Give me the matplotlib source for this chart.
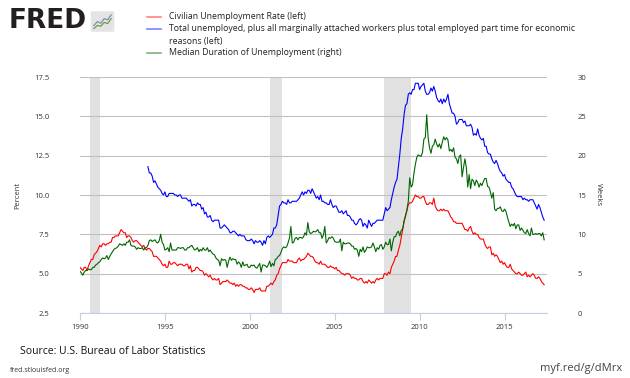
"""FRED chart: unemployment rate, U-6 and median duration of unemployment"""
import matplotlib
matplotlib.use("Agg")
import matplotlib.pyplot as plt
from matplotlib.patches import FancyBboxPatch

plt.rcParams['font.family'] = ['Open Sans', 'DejaVu Sans']

# monthly values, Jan 1990 .. May 2017
unrate = [
    5.4, 5.3, 5.2, 5.4, 5.4, 5.2, 5.5, 5.7, 5.9, 5.9, 6.2, 6.3,
    6.4, 6.6, 6.8, 6.7, 6.9, 6.9, 6.8, 6.9, 6.9, 7.0, 7.0, 7.3,
    7.3, 7.4, 7.4, 7.4, 7.6, 7.8, 7.7, 7.6, 7.6, 7.3, 7.4, 7.4,
    7.3, 7.1, 7.0, 7.1, 7.1, 7.0, 6.9, 6.8, 6.7, 6.8, 6.6, 6.5,
    6.6, 6.6, 6.5, 6.4, 6.1, 6.1, 6.1, 6.0, 5.9, 5.8, 5.6, 5.5,
    5.6, 5.4, 5.4, 5.8, 5.6, 5.6, 5.7, 5.7, 5.6, 5.5, 5.6, 5.6,
    5.6, 5.5, 5.5, 5.6, 5.6, 5.3, 5.5, 5.1, 5.2, 5.2, 5.4, 5.4,
    5.3, 5.2, 5.2, 5.1, 4.9, 5.0, 4.9, 4.8, 4.9, 4.7, 4.6, 4.7,
    4.6, 4.6, 4.7, 4.3, 4.4, 4.5, 4.5, 4.5, 4.6, 4.5, 4.4, 4.4,
    4.3, 4.4, 4.2, 4.3, 4.2, 4.3, 4.3, 4.2, 4.2, 4.1, 4.1, 4.0,
    4.0, 4.1, 4.0, 3.8, 4.0, 4.0, 4.0, 4.1, 3.9, 3.9, 3.9, 3.9,
    4.2, 4.2, 4.3, 4.4, 4.3, 4.5, 4.6, 4.9, 5.0, 5.3, 5.5, 5.7,
    5.7, 5.7, 5.7, 5.9, 5.8, 5.8, 5.8, 5.7, 5.7, 5.7, 5.9, 6.0,
    5.8, 5.9, 5.9, 6.0, 6.1, 6.3, 6.2, 6.1, 6.1, 6.0, 5.8, 5.7,
    5.7, 5.6, 5.8, 5.6, 5.6, 5.6, 5.5, 5.4, 5.4, 5.5, 5.4, 5.4,
    5.3, 5.4, 5.2, 5.2, 5.1, 5.0, 5.0, 4.9, 5.0, 5.0, 5.0, 4.9,
    4.7, 4.8, 4.7, 4.7, 4.6, 4.6, 4.7, 4.7, 4.5, 4.4, 4.5, 4.4,
    4.6, 4.5, 4.4, 4.5, 4.4, 4.6, 4.7, 4.6, 4.7, 4.7, 4.7, 5.0,
    5.0, 4.9, 5.1, 5.0, 5.4, 5.6, 5.8, 6.1, 6.1, 6.5, 6.8, 7.3,
    7.8, 8.3, 8.7, 9.0, 9.4, 9.5, 9.5, 9.6, 9.8, 10.0, 9.9, 9.9,
    9.8, 9.8, 9.9, 9.9, 9.6, 9.4, 9.4, 9.5, 9.5, 9.4, 9.8, 9.3,
    9.1, 9.0, 9.0, 9.1, 9.0, 9.1, 9.0, 9.0, 9.0, 8.8, 8.6, 8.5,
    8.3, 8.3, 8.2, 8.2, 8.2, 8.2, 8.2, 8.0, 7.8, 7.8, 7.7, 7.9,
    8.0, 7.7, 7.5, 7.6, 7.5, 7.5, 7.3, 7.2, 7.2, 7.2, 6.9, 6.7,
    6.6, 6.7, 6.7, 6.2, 6.3, 6.1, 6.2, 6.1, 5.9, 5.7, 5.8, 5.6,
    5.7, 5.5, 5.4, 5.4, 5.6, 5.3, 5.2, 5.1, 5.0, 5.0, 5.1, 5.0,
    4.9, 4.9, 5.0, 5.1, 4.8, 4.9, 4.8, 4.9, 5.0, 4.9, 4.7, 4.7,
    4.8, 4.7, 4.5, 4.4, 4.3,
]

# U-6, Jan 1994 .. May 2017
u6_start = 1994
u6 = [
    11.8, 11.4, 11.4, 11.2, 10.8, 10.9, 10.7, 10.5, 10.4, 10.3, 10.1, 10.0,
    10.2, 9.9, 9.9, 10.1, 10.1, 10.1, 10.1, 10.0, 10.0, 9.9, 10.0, 10.0,
    9.8, 9.8, 9.8, 9.8, 9.7, 9.6, 9.7, 9.3, 9.4, 9.4, 9.3, 9.5,
    9.4, 9.4, 9.1, 9.2, 8.8, 8.9, 8.6, 8.6, 8.7, 8.4, 8.3, 8.4,
    8.4, 8.4, 8.4, 7.9, 7.9, 8.0, 8.1, 8.0, 7.9, 7.8, 7.6, 7.6,
    7.7, 7.7, 7.6, 7.5, 7.4, 7.5, 7.4, 7.4, 7.4, 7.2, 7.1, 7.1,
    7.1, 7.2, 7.1, 6.9, 7.1, 7.0, 7.0, 7.1, 7.0, 6.8, 7.1, 6.9,
    7.3, 7.4, 7.3, 7.4, 7.5, 7.9, 7.9, 8.1, 8.7, 9.3, 9.4, 9.6,
    9.5, 9.5, 9.4, 9.7, 9.5, 9.5, 9.6, 9.6, 9.6, 9.6, 9.7, 9.8,
    10.0, 10.2, 10.0, 10.2, 10.1, 10.3, 10.3, 10.1, 10.4, 10.2, 10.0, 9.8,
    9.9, 9.7, 10.0, 9.6, 9.6, 9.5, 9.5, 9.4, 9.4, 9.7, 9.4, 9.2,
    9.3, 9.3, 9.1, 8.9, 8.9, 9.0, 8.8, 8.9, 9.0, 8.7, 8.7, 8.6,
    8.4, 8.4, 8.2, 8.1, 8.2, 8.4, 8.5, 8.4, 8.0, 8.2, 8.1, 7.9,
    8.4, 8.2, 8.0, 8.2, 8.2, 8.3, 8.4, 8.4, 8.4, 8.4, 8.4, 8.8,
    9.2, 9.0, 9.1, 9.2, 9.7, 10.1, 10.5, 10.8, 11.0, 11.8, 12.6, 13.6,
    14.2, 15.1, 15.7, 15.8, 16.4, 16.5, 16.4, 16.7, 16.7, 17.1, 17.1, 17.1,
    16.7, 16.9, 17.0, 17.1, 16.6, 16.4, 16.4, 16.5, 16.8, 16.6, 16.9, 16.6,
    16.2, 16.0, 15.9, 16.1, 15.8, 16.1, 15.9, 16.1, 16.4, 15.8, 15.5, 15.2,
    15.2, 15.0, 14.5, 14.6, 14.8, 14.8, 14.8, 14.6, 14.7, 14.4, 14.4, 14.4,
    14.5, 14.3, 13.8, 13.9, 13.8, 14.2, 13.8, 13.6, 13.5, 13.6, 13.1, 13.1,
    12.7, 12.6, 12.6, 12.3, 12.1, 12.0, 12.2, 12.0, 11.7, 11.5, 11.4, 11.2,
    11.3, 11.0, 10.9, 10.8, 10.8, 10.5, 10.4, 10.2, 10.0, 9.9, 9.9, 9.9,
    9.9, 9.7, 9.8, 9.7, 9.7, 9.6, 9.7, 9.7, 9.7, 9.5, 9.3, 9.1,
    9.4, 9.2, 8.9, 8.6, 8.4,
]

# median duration of unemployment, weeks, Jan 1990 .. May 2017
uempmed = [
    5.3, 5.1, 4.8, 5.2, 5.4, 5.4, 5.6, 5.5, 5.5, 5.8, 5.8, 6.1,
    6.2, 6.4, 6.5, 6.8, 7.0, 6.9, 7.0, 7.3, 6.8, 7.2, 7.5, 7.8,
    8.1, 8.2, 8.3, 8.5, 8.8, 8.7, 8.6, 8.8, 8.6, 9.0, 9.0, 9.3,
    8.6, 8.5, 8.5, 8.4, 8.1, 8.3, 8.2, 8.2, 8.3, 8.0, 8.3, 8.3,
    8.6, 9.2, 9.3, 9.1, 9.2, 9.3, 9.0, 8.9, 9.2, 10.0, 9.0, 8.7,
    8.0, 8.1, 8.3, 7.8, 8.9, 8.0, 8.0, 8.0, 8.0, 8.3, 8.3, 8.2,
    8.3, 8.3, 8.0, 8.0, 8.3, 8.3, 8.5, 8.6, 8.3, 8.0, 8.1, 8.3,
    7.8, 8.1, 7.9, 8.3, 8.0, 8.0, 8.3, 7.8, 8.0, 7.7, 7.5, 7.4,
    7.0, 6.8, 6.7, 6.0, 6.9, 6.7, 6.8, 6.7, 5.8, 6.6, 7.1, 6.7,
    6.9, 6.8, 6.8, 6.2, 6.5, 6.3, 5.8, 6.5, 6.0, 6.1, 6.2, 5.8,
    5.8, 6.1, 6.0, 6.1, 5.8, 5.7, 6.0, 6.3, 5.2, 6.1, 6.1, 6.0,
    5.8, 6.1, 6.6, 5.9, 6.3, 6.0, 6.8, 6.9, 7.2, 7.3, 7.7, 8.2,
    8.4, 8.3, 8.4, 8.9, 9.5, 11.0, 8.9, 9.0, 9.5, 9.6, 9.3, 9.6,
    9.6, 9.5, 9.7, 10.2, 9.9, 11.5, 10.3, 10.1, 10.2, 10.4, 10.3, 10.4,
    10.6, 10.2, 10.2, 9.5, 9.9, 11.0, 8.9, 9.2, 9.6, 9.5, 9.7, 9.5,
    9.1, 9.0, 9.0, 9.0, 9.4, 7.9, 9.0, 8.8, 8.8, 8.9, 8.9, 8.8,
    8.5, 8.5, 8.1, 8.2, 8.0, 7.2, 8.1, 7.8, 8.4, 7.7, 8.0, 8.4,
    8.3, 8.3, 8.4, 8.9, 8.4, 7.8, 8.3, 8.1, 8.6, 8.7, 8.1, 8.4,
    9.0, 8.7, 8.7, 9.4, 7.9, 9.0, 9.7, 9.7, 10.2, 10.4, 9.8, 10.5,
    10.7, 11.7, 12.3, 13.1, 14.2, 17.2, 16.0, 16.3, 17.8, 18.9, 19.8, 20.1,
    20.0, 19.9, 20.4, 22.1, 22.3, 25.2, 22.3, 21.0, 20.3, 21.2, 21.4, 22.1,
    21.5, 21.1, 21.5, 20.9, 21.7, 22.4, 22.0, 22.3, 22.0, 20.6, 20.8, 20.5,
    21.0, 19.8, 19.6, 19.0, 19.9, 20.1, 17.3, 18.5, 19.6, 18.5, 16.0, 17.6,
    15.8, 17.0, 16.8, 16.2, 16.9, 16.6, 16.0, 16.5, 16.2, 16.7, 17.1, 17.1,
    16.1, 16.0, 15.4, 14.6, 15.3, 13.2, 13.0, 13.3, 13.3, 13.5, 13.0, 12.9,
    13.2, 12.9, 12.2, 11.6, 11.0, 11.3, 11.1, 11.4, 10.7, 11.2, 11.2, 10.5,
    10.8, 10.5, 10.2, 10.1, 10.6, 10.1, 9.8, 10.8, 10.0, 10.0, 10.1, 10.0,
    10.1, 10.1, 9.8, 10.2, 9.3,
]

# NBER recessions (start, end) as decimal years
recession_start = [1990.58, 2001.17, 2007.92]
recession_end = [1991.17, 2001.92, 2009.50]

year_ticks = [1990, 1995, 2000, 2005, 2010, 2015]
left_ticks = [2.5, 5.0, 7.5, 10.0, 12.5, 15.0, 17.5]
right_ticks = [0, 5, 10, 15, 20, 25, 30]

dates = [1990 + i / 12 for i in range(len(unrate))]
u6_dates = [u6_start + i / 12 for i in range(len(u6))]

RED = '#ff0000'
BLUE = '#0000ff'
GREEN = '#006600'
TXT = '#333333'

fig = plt.figure(figsize=(6.3, 3.78), dpi=100)
ax = fig.add_axes([80 / 630, 1 - 313 / 378, 467 / 630, 236 / 378])
ax2 = ax.twinx()

for start, end in zip(recession_start, recession_end):
    ax.axvspan(start, end, color='#e1e1e1', lw=0, zorder=0)

ax.plot(dates, unrate, color=RED, lw=0.8, zorder=3)
ax.plot(u6_dates, u6, color=BLUE, lw=0.8, zorder=3)
ax2.plot(dates, uempmed, color=GREEN, lw=0.8, zorder=3)

ax.set_xlim(1990, 2017.5)
ax.set_ylim(2.5, 17.5)
ax2.set_ylim(0, 30)
ax.set_xticks(year_ticks)
ax.set_xticklabels([str(y) for y in year_ticks])
ax.set_yticks(left_ticks)
ax.set_yticklabels(['%.1f' % v for v in left_ticks])
ax2.set_yticks(right_ticks)
ax.yaxis.grid(True, color='#c0c0c0', lw=0.8)
ax.set_axisbelow(True)

for a in (ax, ax2):
    for side in ('top', 'left', 'right', 'bottom'):
        a.spines[side].set_visible(False)
ax.spines['bottom'].set_visible(True)
ax.spines['bottom'].set_color('#c0d0e0')
ax.tick_params(axis='x', colors='#c0d0e0', length=5, labelcolor=TXT, labelsize=5.5, pad=3)
ax.tick_params(axis='y', length=0, labelsize=5.5, labelcolor=TXT, pad=22)
ax2.tick_params(axis='y', length=0, labelsize=5.5, labelcolor=TXT, pad=22)

ax.set_ylabel('Percent', fontsize=5.5, color=TXT, labelpad=9)
ax2.set_ylabel('Weeks', fontsize=5.5, color=TXT, rotation=270, labelpad=11)

# legend block
legend_items = [
    ('Civilian Unemployment Rate (left)', '#ff8080'),
    ('Total unemployed, plus all marginally attached workers plus total employed part time for economic\nreasons (left)', '#8080ff'),
    ('Median Duration of Unemployment (right)', '#80b080'),
]
y_pos = [17, 29, 53]
for (label, col), yp in zip(legend_items, y_pos):
    fig.lines.append(plt.Line2D([147 / 630, 161 / 630], [1 - yp / 378] * 2,
                                transform=fig.transFigure, color=col, lw=1.2))
    fig.text(169 / 630, 1 - (yp - 5) / 378, label, fontsize=6.3, color='#222222',
             va='top', ha='left', linespacing=1.55)

# FRED logo
fig.text(9 / 630, 1 - 21 / 378, 'FRED', fontsize=19, fontweight='bold',
         color='#231f20', va='center', ha='left', family='DejaVu Sans')
fig.patches.append(FancyBboxPatch((92 / 630, 1 - 31 / 378), 21 / 630, 19 / 378,
                                  boxstyle='round,pad=0.002', transform=fig.transFigure,
                                  fc='#e4e4e4', ec='none', zorder=1))
logo = fig.add_axes([93 / 630, 1 - 30 / 378, 19 / 630, 17 / 378])
logo.set_zorder(2)
logo_blue = [1.2, 2.2, 1.8, 3.0, 2.7, 4.0]
logo_green = [0.4, 1.2, 1.0, 2.0, 1.7, 3.0]
logo.plot(logo_blue, color='#7a8fb0', lw=0.9)
logo.plot(logo_green, color='#6f9a4a', lw=0.9)
logo.set_ylim(0, 4.5)
logo.axis('off')

fig.text(20 / 630, 1 - 352 / 378, 'Source: U.S. Bureau of Labor Statistics',
         fontsize=7.5, color='#111111', va='center', ha='left')
fig.text(10 / 630, 1 - 370 / 378, 'fred.stlouisfed.org', fontsize=5,
         color='#333333', va='center', ha='left')
fig.text(622 / 630, 1 - 369 / 378, 'myf.red/g/dMrx', fontsize=8,
         color='#444444', va='center', ha='right')

fig.savefig('out.png', dpi=100)
